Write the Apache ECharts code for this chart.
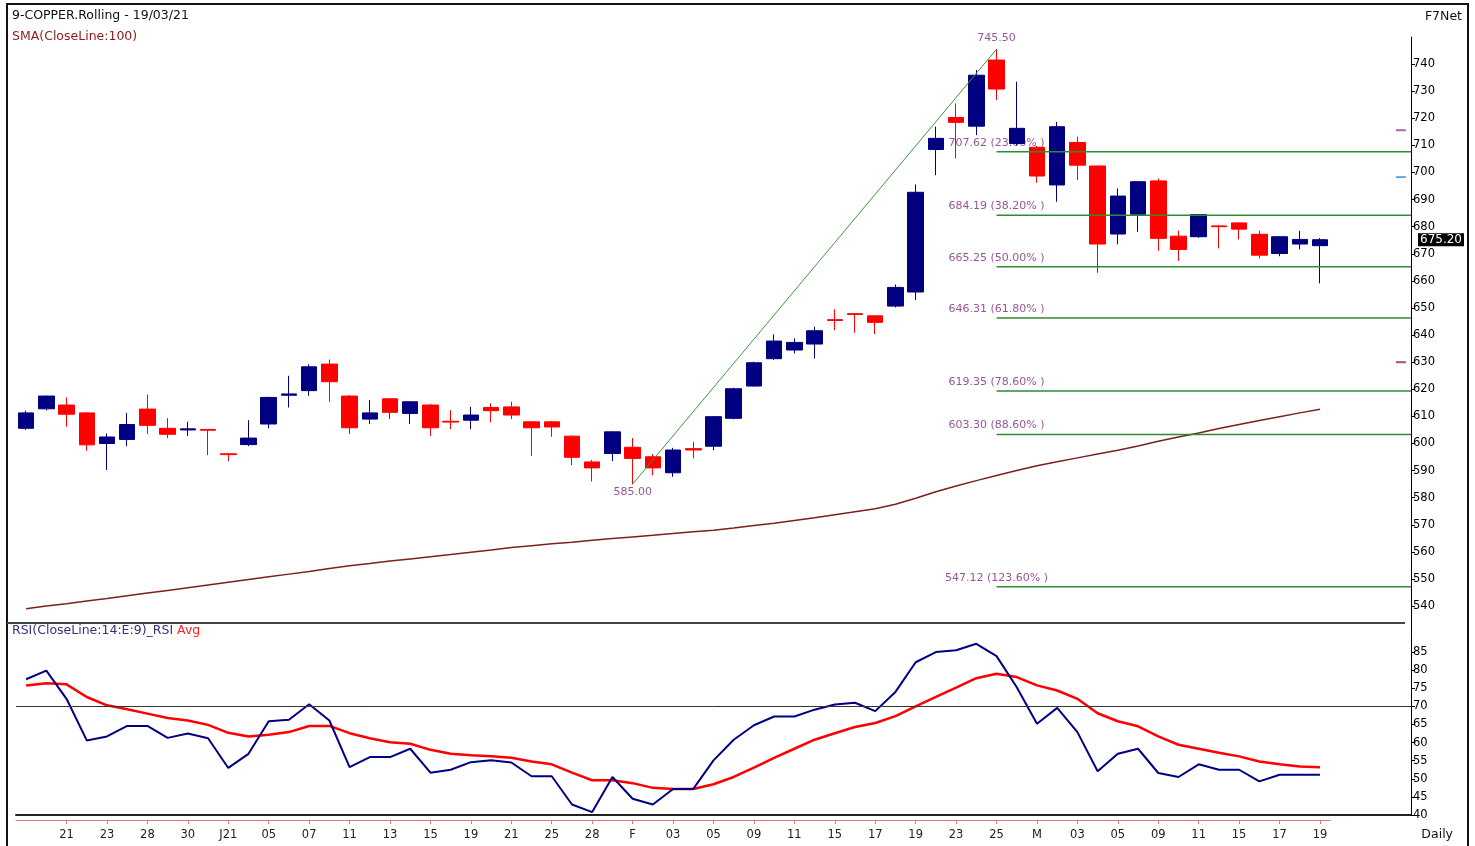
<!DOCTYPE html>
<html>
<head>
<meta charset="utf-8">
<title>9-COPPER.Rolling</title>
<script src="https://cdn.jsdelivr.net/npm/echarts@6/dist/echarts.min.js"></script>
<style>
html, body { margin: 0; padding: 0; background: #fff; }
#main { width: 1475px; height: 846px; }
</style>
</head>
<body>
<div id="main"></div>
<script>
// trading days, 17 Dec 2020 .. 19 Mar 2021
var dates = ['2020-12-17','2020-12-18','2020-12-21','2020-12-22','2020-12-23','2020-12-24','2020-12-28','2020-12-29','2020-12-30','2020-12-31',
  '2021-01-01','2021-01-04','2021-01-05','2021-01-06','2021-01-07','2021-01-08','2021-01-11','2021-01-12','2021-01-13','2021-01-14',
  '2021-01-15','2021-01-18','2021-01-19','2021-01-20','2021-01-21','2021-01-22','2021-01-25','2021-01-27','2021-01-28','2021-01-29',
  '2021-02-01','2021-02-02','2021-02-03','2021-02-04','2021-02-05','2021-02-08','2021-02-09','2021-02-10','2021-02-11','2021-02-12',
  '2021-02-15','2021-02-16','2021-02-17','2021-02-18','2021-02-19','2021-02-22','2021-02-23','2021-02-24','2021-02-25','2021-02-26',
  '2021-03-01','2021-03-02','2021-03-03','2021-03-04','2021-03-05','2021-03-08','2021-03-09','2021-03-10','2021-03-11','2021-03-12',
  '2021-03-15','2021-03-16','2021-03-17','2021-03-18','2021-03-19'];
// text under the date axis (every 2nd one is shown)
var days = ['17','18','21','22','23','24','28','29','30','31','J21','04','05','06','07','08','11','12','13','14',
  '15','18','19','20','21','22','25','27','28','29','F','02','03','04','05','08','09','10','11','12',
  '15','16','17','18','19','22','23','24','25','26','M','02','03','04','05','08','09','10','11','12',
  '15','16','17','18','19'];

var opens  = [605.6,612.8,614.2,611.3,600.0,601.5,612.7,605.6,605.0,605.2,596.2,599.6,607.2,617.8,619.5,629.3,617.5,609.0,616.5,611.1,
  614.2,608.2,608.6,613.3,613.5,608.0,608.0,602.7,593.2,596.3,598.6,595.1,589.2,598.1,599.0,609.3,621.2,631.3,634.5,636.7,
  645.7,647.9,647.1,650.7,655.9,708.5,720.3,717.1,741.5,710.7,709.3,695.4,711.1,702.4,677.3,684.6,696.9,676.5,676.3,680.3,
  681.4,677.2,670.1,673.6,673.0];
var closes = [611.3,617.5,610.8,599.5,602.4,607.0,606.7,603.4,605.4,604.9,595.9,602.0,617.0,618.3,628.3,622.8,605.8,611.3,611.5,615.4,
  605.8,607.9,610.5,612.1,610.5,605.8,606.1,594.9,591.0,604.3,594.5,591.0,597.6,597.6,609.9,620.2,629.8,637.8,637.3,641.6,
  645.4,647.6,644.7,657.6,692.7,712.6,718.5,735.9,730.8,716.3,698.7,716.9,702.7,673.6,691.3,696.6,675.7,671.6,684.5,680.0,
  679.1,669.5,676.3,675.3,675.2];
var lows   = [605.0,612.2,606.2,597.3,590.2,599.0,603.5,602.0,602.8,595.7,593.5,599.0,605.6,613.3,617.6,615.4,603.5,607.2,609.0,607.2,
  602.8,605.3,605.3,607.8,609.0,595.4,602.5,592.0,586.0,593.5,585.0,588.3,587.7,594.5,597.6,608.9,621.0,630.8,633.2,631.4,
  641.8,640.9,640.4,650.2,652.9,699.0,705.2,713.8,726.7,710.0,696.2,689.2,697.2,663.0,673.5,678.1,671.1,667.4,675.9,672.0,
  675.3,668.3,669.1,671.6,659.1];
var highs  = [612.1,617.7,617.0,611.5,603.7,611.3,618.1,609.4,608.0,605.3,596.3,608.6,617.2,625.0,629.2,631.0,617.8,616.0,616.7,615.6,
  614.5,612.3,613.5,614.8,615.4,608.2,608.2,603.0,593.9,604.5,602.0,596.1,598.4,600.6,610.1,620.6,630.2,640.3,638.8,643.1,
  649.5,648.0,647.3,658.7,695.6,716.9,725.5,737.8,745.5,733.5,709.8,718.7,713.2,702.6,694.1,696.9,697.8,678.5,684.7,680.5,
  681.6,678.5,676.5,678.5,675.8];

// SMA(CloseLine:100)
var sma100 = [539.0,540.0,540.9,541.9,542.8,543.8,544.8,545.8,546.8,547.8,548.8,549.8,550.8,551.8,552.8,553.9,554.9,555.7,556.6,557.4,
  558.2,559.0,559.9,560.7,561.6,562.3,563.0,563.6,564.3,564.9,565.5,566.1,566.8,567.4,568.0,568.8,569.7,570.6,571.6,572.6,
  573.7,574.8,575.9,577.6,579.8,582.2,584.3,586.3,588.2,590.0,591.8,593.3,594.7,596.1,597.5,599.1,600.8,602.4,603.9,605.5,
  607.0,608.5,609.9,611.3,612.6];

// RSI(14) and its average
var rsi = [77.5,79.9,72.1,60.6,61.7,64.6,64.6,61.3,62.5,61.2,53.0,56.9,65.9,66.3,70.6,66.1,53.2,56.0,56.0,58.3,
  51.7,52.5,54.6,55.1,54.5,50.7,50.7,42.9,40.8,50.5,44.5,42.9,47.2,47.2,55.1,60.8,64.8,67.2,67.2,69.1,
  70.5,71.0,68.7,74.0,82.2,85.0,85.5,87.3,83.9,75.3,65.2,69.6,62.9,52.1,56.9,58.3,51.6,50.5,54.0,52.5,
  52.5,49.3,51.1,51.1,51.1];
var rsiAvg = [75.8,76.4,76.1,72.6,70.3,69.2,68.0,66.8,66.1,64.9,62.7,61.7,62.2,62.9,64.6,64.6,62.6,61.2,60.1,59.7,
  58.0,56.9,56.5,56.2,55.8,54.8,54.0,51.7,49.6,49.6,48.8,47.5,47.2,47.2,48.5,50.5,53.1,55.8,58.3,60.8,
  62.6,64.3,65.4,67.3,70.0,72.6,75.2,77.8,79.0,78.1,75.8,74.4,72.1,68.1,65.9,64.5,61.7,59.4,58.3,57.2,
  56.2,54.8,54.0,53.4,53.2];

// fibonacci retracement, swing low (index 30) to swing high (index 48)
var swingIdx = [30, 48];
var swingVal = [585.00, 745.50];
var fibLevels = [707.62, 684.19, 665.25, 646.31, 619.35, 603.30, 547.12];
var fibPct = ['23.60', '38.20', '50.00', '61.80', '78.60', '88.60', '123.60'];

var sideMarks = [715.6, 698.3, 630.0];
var lastPrice = 675.20;
var rsiLevel = 70;

// ---- layout / style ----
var FONT = 'DejaVu Sans';
var HEAD = 12.5;                    // header text size
var PAD = 4;                        // empty slots right of last candle
var XMAX = dates.length + PAD - 0.5;
var padded = dates.slice();
for (var p = 1; p <= PAD; p++) padded.push('+' + p);
var sideColors = ['#9a3c9a', '#3a8ee0', '#8b3030'];
var FIB_GREEN = '#2e8b2e';
var LABEL_PURPLE = '#7b2a7b';

var candles = opens.map(function (o, i) { return [o, closes[i], lows[i], highs[i]]; });

function showEveryOther(idx) { return idx > 0 && idx % 2 === 0; }

var series = [
  {
    type: 'line', name: 'SMA', xAxisIndex: 0, yAxisIndex: 0, data: sma100,
    symbol: 'none', lineStyle: { color: '#7a2020', width: 1.5 }, z: 2
  },
  {
    type: 'scatter', name: 'fibText', xAxisIndex: 1, yAxisIndex: 0, z: 1,
    symbolSize: 1, itemStyle: { color: 'rgba(0,0,0,0)' },
    label: { show: true, position: 'top', distance: 3, color: LABEL_PURPLE, fontFamily: FONT, fontSize: 11 },
    data: fibLevels.map(function (v, i) {
      return { value: [swingIdx[1], v], label: { formatter: v.toFixed(2) + ' (' + fibPct[i] + '% )' } };
    }).concat([
      { value: [swingIdx[0], swingVal[0]], label: { formatter: swingVal[0].toFixed(2), position: 'bottom', distance: 2 } },
      { value: [swingIdx[1], swingVal[1]], label: { formatter: swingVal[1].toFixed(2), distance: 5 } }
    ])
  },
  {
    type: 'candlestick', name: 'COPPER', xAxisIndex: 0, yAxisIndex: 0, data: candles,
    barWidth: 16, z: 3,
    itemStyle: { color: '#000080', color0: '#ff0000', borderColor: '#000080', borderColor0: '#ff0000', borderWidth: 1 }
  },
  {
    // last price tag on the price axis
    type: 'line', name: 'last', xAxisIndex: 1, yAxisIndex: 0, z: 5,
    symbol: 'none', lineStyle: { width: 0, color: 'rgba(0,0,0,0)' },
    data: [[-0.5, lastPrice], [XMAX, lastPrice]],
    endLabel: {
      show: true, distance: 7, formatter: lastPrice.toFixed(2),
      backgroundColor: '#000', color: '#fff', fontFamily: FONT, fontSize: 12, padding: [1, 2, 0, 2]
    }
  },
  {
    type: 'line', name: 'trend', xAxisIndex: 1, yAxisIndex: 0, z: 4,
    symbol: 'none', lineStyle: { color: '#3a9a3a', width: 1 },
    data: [[swingIdx[0], swingVal[0]], [swingIdx[1], swingVal[1]]]
  },
  {
    type: 'scatter', name: 'marks', xAxisIndex: 1, yAxisIndex: 0, z: 4,
    symbol: 'rect', symbolSize: [10, 2],
    data: sideMarks.map(function (v, i) { return { value: [XMAX - 0.5, v], itemStyle: { color: sideColors[i] } }; })
  },
  {
    type: 'line', name: 'Avg', xAxisIndex: 2, yAxisIndex: 1, data: rsiAvg,
    symbol: 'none', lineStyle: { color: '#ff0000', width: 2.5 }, z: 2
  },
  {
    type: 'line', name: 'RSI', xAxisIndex: 2, yAxisIndex: 1, data: rsi,
    symbol: 'none', lineStyle: { color: '#000080', width: 2 }, z: 3,
    markLine: {
      silent: true, symbol: 'none', animation: false,
      lineStyle: { color: '#333', width: 1, type: 'solid' },
      label: { show: false },
      data: [{ yAxis: rsiLevel }]
    }
  }
];

fibLevels.forEach(function (v) {
  series.push({
    type: 'line', name: 'fib' + v, xAxisIndex: 1, yAxisIndex: 0, z: 4,
    symbol: 'none', lineStyle: { color: FIB_GREEN, width: 1.5 },
    data: [[swingIdx[1], v], [XMAX, v]]
  });
});

var axisText = { color: '#000', fontFamily: FONT, fontSize: 11.5 };
function head(color) { return { color: color, fontSize: HEAD, fontWeight: 'normal', fontFamily: FONT }; }

var option = {
  animation: false,
  backgroundColor: '#fff',
  textStyle: { fontFamily: FONT },
  title: [
    { text: '9-COPPER.Rolling - 19/03/21', left: 12, top: 9, padding: 0, textStyle: head('#111') },
    { text: 'SMA(CloseLine:100)', left: 12, top: 30, padding: 0, textStyle: head('#8b1a1a') },
    { text: 'F7Net', right: 13, top: 10, padding: 0, textStyle: head('#111') },
    {
      text: '{a|RSI(CloseLine:14:E:9)_RSI} {b|Avg}', left: 12, top: 624, padding: 0,
      textStyle: { fontSize: HEAD, fontWeight: 'normal', fontFamily: FONT,
        rich: { a: { color: '#34347a', fontSize: HEAD, fontFamily: FONT }, b: { color: '#ff2020', fontSize: HEAD, fontFamily: FONT } } }
    },
    { text: 'Daily', right: 22, top: 828, padding: 0, textStyle: head('#111') }
  ],
  grid: [
    { left: 16, right: 64, top: 37, height: 596.2, outerBoundsMode: 'none' },
    { left: 16, right: 64, top: 634, height: 181, outerBoundsMode: 'none' },
    { left: 16, width: 1314.1, top: 819, height: 1, outerBoundsMode: 'none' }
  ],
  xAxis: [
    { type: 'category', gridIndex: 0, data: padded, boundaryGap: true, show: false },
    { type: 'value', gridIndex: 0, min: -0.5, max: XMAX, show: false },
    {
      type: 'category', gridIndex: 1, data: padded, boundaryGap: true,
      axisLine: { show: true, lineStyle: { color: '#222', width: 2 } },
      axisTick: { show: false }, axisLabel: { show: false }, splitLine: { show: false }
    },
    {
      type: 'category', gridIndex: 2, data: dates, boundaryGap: true,
      axisLine: { show: true, lineStyle: { color: '#e07a7a', width: 1 } },
      axisTick: { show: true, interval: showEveryOther, alignWithLabel: true, length: 4, lineStyle: { color: '#e07a7a' } },
      axisLabel: {
        interval: showEveryOther, margin: 9, color: '#222', fontFamily: FONT, fontSize: 11.5,
        formatter: function (val, idx) { return days[idx]; }
      },
      splitLine: { show: false }
    }
  ],
  yAxis: [
    {
      type: 'value', gridIndex: 0, position: 'right', min: 530, max: 750, interval: 10,
      axisLine: { show: true, onZero: false, lineStyle: { color: '#000', width: 1 } },
      axisTick: { show: true, length: 4, lineStyle: { color: '#000' } },
      axisLabel: Object.assign({ margin: 2, showMinLabel: false, showMaxLabel: false }, axisText),
      splitLine: { show: false }
    },
    {
      type: 'value', gridIndex: 1, position: 'right', min: 40, max: 90, interval: 5,
      axisLine: { show: true, onZero: false, lineStyle: { color: '#000', width: 1 } },
      axisTick: { show: true, length: 4, lineStyle: { color: '#000' } },
      axisLabel: Object.assign({ margin: 2, showMaxLabel: false }, axisText),
      splitLine: { show: false }
    },
    { type: 'value', gridIndex: 2, show: false }
  ],
  graphic: [
    // outer frame
    { type: 'rect', silent: true, shape: { x: 7, y: 4, width: 1461, height: 850 }, style: { fill: 'none', stroke: '#111', lineWidth: 2 } },
    // panel separator
    { type: 'line', silent: true, shape: { x1: 7, y1: 623, x2: 1405, y2: 623 }, style: { stroke: '#444', lineWidth: 2 } }
  ],
  series: series
};

var chart = echarts.init(document.getElementById('main'), null, { renderer: 'canvas' });
chart.setOption(option);
window.onresize = function () { chart.resize(); };
</script>
</body>
</html>
